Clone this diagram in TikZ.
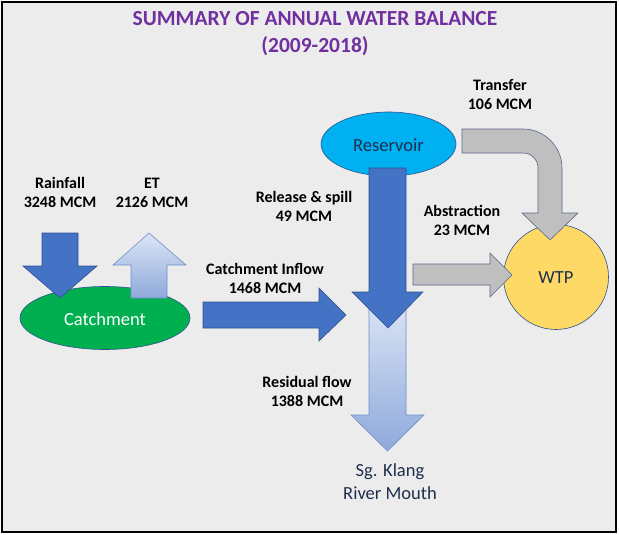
\documentclass[tikz,border=0pt]{standalone}
\usepackage{fontspec}
\setmainfont{Carlito}
\usetikzlibrary{shapes.geometric}
\definecolor{bgray}{HTML}{ECECEC}
\definecolor{ttl}{HTML}{7030A0}
\definecolor{dblue}{HTML}{4472C4}
\definecolor{dedge}{HTML}{2F528F}
\definecolor{ltop}{HTML}{DCE5F5}
\definecolor{lbot}{HTML}{8EA9DB}
\definecolor{ledge}{HTML}{6F8FC8}
\definecolor{garr}{HTML}{BFBFBF}
\definecolor{gedge}{HTML}{59698A}
\definecolor{catg}{HTML}{00B050}
\definecolor{resb}{HTML}{00B0F0}
\definecolor{wtpy}{HTML}{FFD966}
\definecolor{navy}{HTML}{1F2F4F}
\tikzset{
  lbl/.style={font=\bfseries\fontsize{16}{19}\selectfont, align=center, text=black, inner sep=0pt},
  bigtxt/.style={font=\fontsize{18.5}{23}\selectfont, align=center, inner sep=0pt},
  darrow/.style={fill=dblue, draw=dedge, line width=0.6pt},
  larrow/.style={top color=ltop, bottom color=lbot, draw=ledge, line width=0.6pt},
  garrow/.style={fill=garr, draw=gedge, line width=0.6pt},
}
\begin{document}
\begin{tikzpicture}[x=1pt,y=-1pt]
\useasboundingbox (0,0) rectangle (619,535);
\fill[white] (0,0) rectangle (619,535);
\draw[fill=bgray, line width=1.2pt] (2,2) rectangle (616,532);

% title
\node[font=\bfseries\fontsize{21.5}{27}\selectfont, text=ttl, align=center, inner sep=0pt] (title) at (315,34)
  {SUMMARY OF ANNUAL WATER BALANCE\\(2009-2018)};

% catchment
\node[ellipse, fill=catg, draw=dedge, line width=0.6pt, minimum width=170, minimum height=63, inner sep=0pt] (catch) at (105,318) {};
\node[bigtxt, text=white] (catchtxt) at (105,319) {Catchment};

% rainfall arrow (down)
\draw[darrow] (42,233) -- (78,233) -- (78,266) -- (97,266) -- (60,298) -- (23,266) -- (42,266) -- cycle;
% ET arrow (up)
\draw[larrow] (131,298) -- (167,298) -- (167,265) -- (186,265) -- (149,233) -- (113,265) -- (131,265) -- cycle;

\node[lbl] (rain) at (60,192.5) {Rainfall\\3248 MCM};
\node[lbl] (et) at (152,192.5) {ET\\2126 MCM};

% catchment inflow arrow
\draw[darrow] (203,302) -- (319,302) -- (319,288) -- (346,315) -- (319,341) -- (319,328) -- (203,328) -- cycle;
\node[lbl] (inflow) at (265,278.5) {Catchment Inflow\\1468 MCM};

% reservoir
\node[ellipse, fill=resb, draw=dedge, line width=0.6pt, minimum width=135, minimum height=64, inner sep=0pt] (res) at (388.5,144) {};
\node[bigtxt, text=navy] (restxt) at (388.5,145) {Reservoir};

% WTP
\node[circle, fill=wtpy, draw=dedge, line width=0.6pt, minimum size=105, inner sep=0pt] (wtp) at (556,277) {};
\node[bigtxt, text=navy] (wtptxt) at (556,278) {WTP};

% residual arrow (behind)
\draw[larrow] (369,300) -- (406,300) -- (406,415) -- (424,415) -- (387.5,451) -- (351,415) -- (369,415) -- cycle;
% release arrow
\draw[darrow] (369,168) -- (406,168) -- (406,292) -- (423,292) -- (388,328) -- (352,292) -- (369,292) -- cycle;

\node[lbl] (release) at (304,206.5) {Release \& spill\\49 MCM};
\node[lbl] (resid) at (307,391) {Residual flow\\1388 MCM};
\node[bigtxt, text=navy] (mouth) at (390,481.5) {Sg. Klang\\River Mouth};

% abstraction arrow
\draw[garrow] (413,264) -- (490,264) -- (490,253) -- (512,275) -- (490,297) -- (490,285) -- (413,285) -- cycle;
\node[lbl] (abs) at (462,220) {Abstraction\\23 MCM};

% transfer arrow (bent)
\draw[garrow] (462,129) -- (523,129) .. controls (544.5,129) and (562,146.5) .. (562,168)
  -- (562,213) -- (578,213) -- (550,240) -- (522,213) -- (538,213) -- (538,168)
  .. controls (538,159.7) and (531.3,153) .. (523,153) -- (462,153) -- cycle;
\node[lbl] (trans) at (500,95) {Transfer\\106 MCM};
\end{tikzpicture}
\end{document}
